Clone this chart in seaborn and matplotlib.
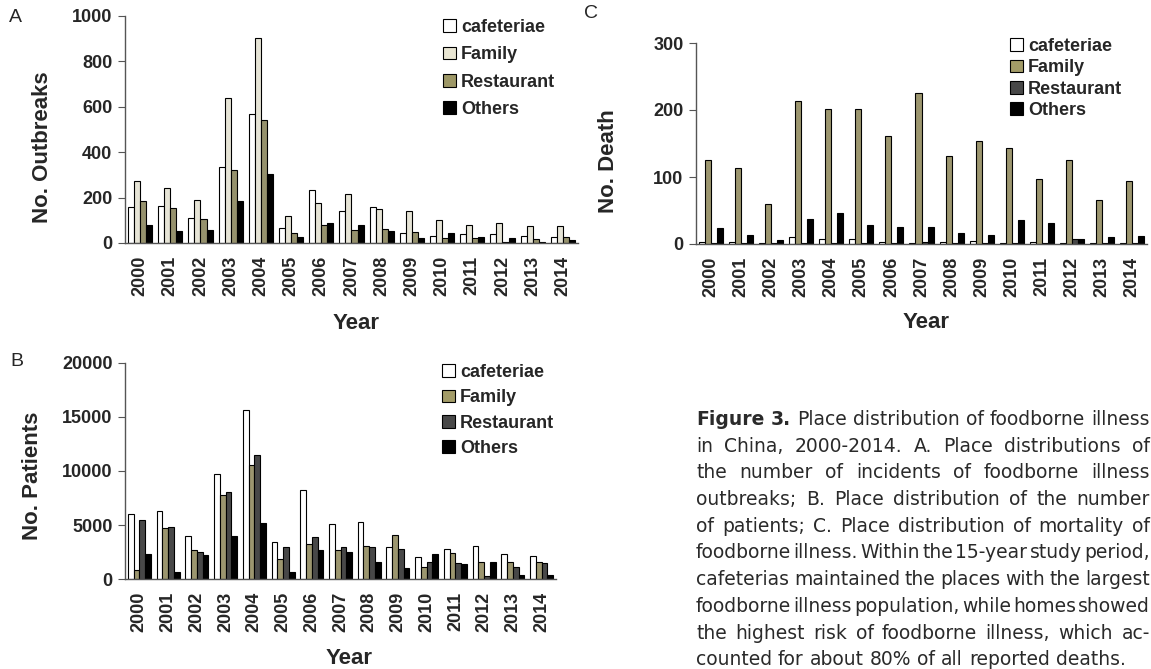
import numpy as np
import pandas as pd
import matplotlib
matplotlib.use("Agg")
import matplotlib.pyplot as plt
from matplotlib.patches import Patch
import seaborn as sns

# Data
years = [str(y) for y in range(2000, 2015)]
places = ["cafeteriae", "Family", "Restaurant", "Others"]

# A. number of outbreaks
cafe_A = [160, 165, 112, 336, 568, 65, 235, 140, 160, 45, 30, 40, 40, 30, 25]
family_A = [275, 244, 191, 637, 902, 120, 175, 215, 150, 140, 100, 80, 90, 75, 75]
rest_A = [185, 153, 106, 323, 542, 43, 80, 57, 62, 48, 22, 22, 5, 18, 26]
others_A = [79, 54, 59, 186, 304, 28, 88, 80, 55, 22, 44, 26, 22, 5, 13]

# B. number of patients
cafe_B = [6000, 6300, 3950, 9750, 15650, 3400, 8200, 5050, 5300, 2950, 2050, 2750, 3050, 2300, 2100]
family_B = [800, 4700, 2700, 7750, 10550, 1850, 3200, 2650, 3050, 4100, 1150, 2450, 1600, 1550, 1550]
rest_B = [5500, 4850, 2500, 8100, 11450, 2950, 3850, 2950, 2950, 2750, 1600, 1500, 300, 1150, 1500]
others_B = [2300, 650, 2200, 4000, 5200, 650, 2650, 2500, 1600, 1050, 2300, 1400, 1600, 400, 400]

# C. number of deaths
cafe_C = [3, 3, 1, 10, 7, 7, 3, 2, 3, 5, 2, 3, 1, 1, 1]
family_C = [125, 113, 59, 213, 202, 202, 161, 226, 132, 154, 144, 97, 126, 65, 94]
rest_C = [2, 2, 1, 1, 1, 1, 2, 3, 1, 2, 1, 1, 7, 1, 1]
others_C = [24, 13, 6, 37, 46, 28, 25, 25, 16, 14, 36, 31, 7, 11, 12]

colors_A = ["#ffffff", "#e9e6d3", "#9d9766", "#000000"]
colors_BC = ["#ffffff", "#a39c68", "#484848", "#000000"]

caption = [
    ("Figure 3. Place distribution of foodborne illness", True),
    ("in China, 2000-2014. A. Place distributions of", True),
    ("the number of incidents of foodborne illness", True),
    ("outbreaks; B. Place distribution of the number", True),
    ("of patients; C. Place distribution of mortality of", True),
    ("foodborne illness. Within the 15-year study period,", True),
    ("cafeterias maintained the places with the largest", True),
    ("foodborne illness population, while homes showed", True),
    ("the highest risk of foodborne illness, which ac-", True),
    ("counted for about 80% of all reported deaths.", False),
]

sns.set_style("white")
plt.rcParams["font.family"] = ["Liberation Sans", "DejaVu Sans"]

W, H = 1151, 669
fig = plt.figure(figsize=(W / 100, H / 100), dpi=100)


def px_axes(left, top, right, bottom):
    return fig.add_axes([left / W, 1 - bottom / H, (right - left) / W, (bottom - top) / H])


def make_panel(ax, series, colors, ymax, yticks, ylabel, ylab_xy, xlab_xy, leg_xy, leg_space):
    df = pd.DataFrame({"Year": years * 4,
                       "Place": np.repeat(places, len(years)),
                       "value": np.concatenate(series)})
    sns.barplot(data=df, x="Year", y="value", hue="Place", palette=colors,
                edgecolor="black", linewidth=0.8, errorbar=None, legend=False, ax=ax)
    ax.set_xlim(-0.5, 14.5)
    ax.set_ylim(0, ymax)
    ax.set_yticks(yticks)
    ax.set_yticklabels([str(t) for t in yticks], fontsize=13, fontweight="bold")
    ax.set_xticks(range(len(years)))
    ax.set_xticklabels(years, rotation=90, fontsize=13, fontweight="bold")
    ax.set_xticks(np.arange(-0.5, 15, 1), minor=True)
    ax.tick_params(axis="x", which="major", length=0, pad=9)
    ax.tick_params(axis="x", which="minor", length=5, color="#555555", direction="out")
    ax.tick_params(axis="y", length=5, color="#555555", direction="out", left=True, pad=4)
    for s in ["top", "right"]:
        ax.spines[s].set_visible(False)
    for s in ["left", "bottom"]:
        ax.spines[s].set_color("#555555")
        ax.spines[s].set_linewidth(1)
    ax.set_ylabel(ylabel, fontsize=16, fontweight="bold")
    ax.yaxis.set_label_coords(*ylab_xy)
    ax.set_xlabel("Year", fontsize=16, fontweight="bold")
    ax.xaxis.set_label_coords(*xlab_xy)
    handles = [Patch(facecolor=c, edgecolor="black", linewidth=0.8) for c in colors]
    ax.legend(handles, places, loc="upper left", bbox_to_anchor=(leg_xy[0] / W, 1 - leg_xy[1] / H),
              bbox_transform=fig.transFigure, frameon=False, borderpad=0, borderaxespad=0,
              handlelength=0.7, handleheight=0.7, handletextpad=0.3, labelspacing=leg_space,
              prop={"weight": "bold", "size": 13})


axA = px_axes(125, 16, 578, 243)
make_panel(axA, [cafe_A, family_A, rest_A, others_A], colors_A, 1000, range(0, 1001, 200),
           "No. Outbreaks", (-0.16, 0.42), (0.51, -0.31), (443, 19), 0.57)

axB = px_axes(125, 363, 556, 579)
make_panel(axB, [cafe_B, family_B, rest_B, others_B], colors_BC, 20000, range(0, 20001, 5000),
           "No. Patients", (-0.19, 0.48), (0.52, -0.32), (442, 364), 0.46)

axC = px_axes(696, 43, 1147, 244)
make_panel(axC, [cafe_C, family_C, rest_C, others_C], colors_BC, 300, range(0, 301, 100),
           "No. Death", (-0.17, 0.41), (0.51, -0.34), (1010, 38), 0.24)

# panel letters
for letter, x, y in [("A", 15, 17), ("B", 17, 361), ("C", 591, 14)]:
    fig.text(x / W, 1 - y / H, letter, fontsize=14, ha="center", va="center")

# justified caption
fig.canvas.draw()
r = fig.canvas.get_renderer()
left, right = 696, 1150
for i, (line, justify) in enumerate(caption):
    words = line.split(" ")
    yb = 1 - (425 + 26.7 * i) / H
    texts = []
    for j, w in enumerate(words):
        bold = i == 0 and j < 2
        texts.append(fig.text(0, yb, w, fontsize=13.5, va="baseline", family="DejaVu Sans",
                              fontweight="bold" if bold else "normal", color="#2a2a2a"))
    widths = [t.get_window_extent(r).width for t in texts]
    if justify:
        gap = (right - left - sum(widths)) / (len(words) - 1)
    else:
        gap = 0.32 * 13.5 * 100 / 72
    x = left
    for t, w in zip(texts, widths):
        t.set_x(x / W)
        x += w + gap

fig.savefig("out.png", dpi=100)
